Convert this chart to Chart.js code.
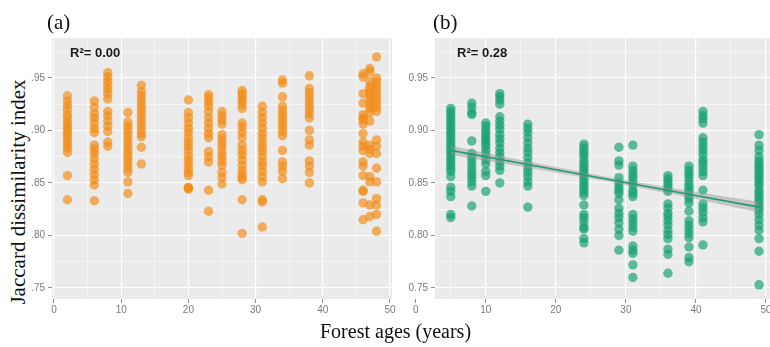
<!DOCTYPE html>
<html>
<head>
<meta charset="utf-8">
<script src="https://cdn.jsdelivr.net/npm/chart.js@4.4.1/dist/chart.umd.min.js"></script>
<style>
  html, body { margin: 0; padding: 0; background: #fff; overflow: hidden; }
  #wrap { position: relative; width: 770px; height: 347px; overflow: hidden; }
  canvas { position: absolute; top: 0; }
  #chartA { left: 0; }
  #chartB { left: 385px; }
  .serif { position: absolute; font-family: "Liberation Serif", "Times New Roman", serif; color: #111; white-space: nowrap; }
  .r2 { position: absolute; font-family: "Liberation Sans", Arial, sans-serif; font-weight: bold; font-size: 13px; color: #1a1a1a; }
  #ytitle { left: 0; top: 0; width: 31px; height: 347px; background: #fff; }
  #ytitle span { position: absolute; left: 18px; top: 192px; transform: translate(-50%, -50%) rotate(-90deg); font-size: 21px; }
</style>
</head>
<body>
<div id="wrap">
  <canvas id="chartA" width="400" height="347"></canvas>
  <canvas id="chartB" width="420" height="347"></canvas>
  <div id="ytitle" class="serif"><span>Jaccard dissimilarity index</span></div>
  <div class="serif" style="left:47px; top:10px; font-size:21px;">(a)</div>
  <div class="serif" style="left:433px; top:10px; font-size:21px;">(b)</div>
  <div class="r2" style="left:70px; top:45px;">R²= 0.00</div>
  <div class="r2" style="left:457px; top:45px;">R²= 0.28</div>
  <div class="serif" style="left:320px; top:320px; font-size:20px;">Forest ages (years)</div>
</div>
<script>
// panel (a): forest age -> dissimilarity values read per column
const agesA = [2, 6, 8, 11, 13, 20, 23, 25, 28, 31, 34, 38, 46, 47, 48];
const jaccardA = [
  [0.933, 0.928, 0.924, 0.92, 0.915, 0.912, 0.908, 0.905, 0.902, 0.899, 0.896, 0.893, 0.889, 0.886, 0.883, 0.879, 0.857, 0.834],
  [0.928, 0.922, 0.916, 0.912, 0.907, 0.902, 0.898, 0.886, 0.882, 0.878, 0.873, 0.868, 0.863, 0.858, 0.853, 0.848, 0.833],
  [0.955, 0.951, 0.947, 0.943, 0.939, 0.935, 0.93, 0.918, 0.914, 0.909, 0.904, 0.899, 0.889, 0.885],
  [0.917, 0.908, 0.904, 0.9, 0.896, 0.892, 0.888, 0.884, 0.88, 0.876, 0.872, 0.868, 0.864, 0.86, 0.851, 0.84],
  [0.943, 0.937, 0.933, 0.929, 0.925, 0.921, 0.917, 0.913, 0.909, 0.905, 0.901, 0.897, 0.894, 0.884, 0.868],
  [0.929, 0.917, 0.912, 0.907, 0.902, 0.898, 0.893, 0.889, 0.885, 0.881, 0.876, 0.872, 0.868, 0.864, 0.86, 0.857, 0.846, 0.845, 0.844],
  [0.934, 0.931, 0.927, 0.923, 0.918, 0.912, 0.907, 0.902, 0.897, 0.893, 0.88, 0.875, 0.87, 0.843, 0.823],
  [0.918, 0.914, 0.91, 0.906, 0.896, 0.892, 0.888, 0.884, 0.879, 0.875, 0.871, 0.867, 0.86, 0.855, 0.849],
  [0.938, 0.935, 0.932, 0.929, 0.925, 0.921, 0.907, 0.903, 0.898, 0.893, 0.886, 0.881, 0.877, 0.872, 0.867, 0.862, 0.858, 0.855, 0.853, 0.834, 0.802],
  [0.923, 0.917, 0.912, 0.907, 0.902, 0.897, 0.893, 0.888, 0.884, 0.88, 0.875, 0.87, 0.866, 0.861, 0.856, 0.851, 0.834, 0.832, 0.808],
  [0.948, 0.945, 0.932, 0.923, 0.919, 0.915, 0.911, 0.907, 0.903, 0.899, 0.895, 0.881, 0.87, 0.866, 0.861, 0.854],
  [0.952, 0.94, 0.936, 0.932, 0.928, 0.924, 0.92, 0.916, 0.912, 0.9, 0.891, 0.886, 0.871, 0.866, 0.86, 0.85],
  [0.954, 0.951, 0.935, 0.926, 0.915, 0.912, 0.91, 0.906, 0.897, 0.889, 0.885, 0.881, 0.87, 0.866, 0.857, 0.843, 0.842, 0.831, 0.815],
  [0.959, 0.956, 0.947, 0.942, 0.939, 0.936, 0.933, 0.929, 0.925, 0.921, 0.917, 0.909, 0.886, 0.882, 0.878, 0.856, 0.851, 0.829, 0.818],
  [0.97, 0.95, 0.946, 0.942, 0.938, 0.934, 0.93, 0.926, 0.922, 0.918, 0.891, 0.885, 0.878, 0.864, 0.851, 0.835, 0.829, 0.82, 0.804]
];

// panel (b)
const agesB = [5, 8, 10, 12, 16, 24, 29, 31, 36, 39, 41, 49];
const jaccardB = [
  [0.921, 0.918, 0.915, 0.912, 0.909, 0.906, 0.903, 0.9, 0.897, 0.894, 0.891, 0.888, 0.885, 0.882, 0.879, 0.876, 0.873, 0.87, 0.867, 0.864, 0.861, 0.856, 0.846, 0.842, 0.837, 0.82, 0.817],
  [0.926, 0.922, 0.917, 0.915, 0.89, 0.878, 0.874, 0.87, 0.866, 0.862, 0.858, 0.855, 0.851, 0.847, 0.828],
  [0.907, 0.904, 0.9, 0.897, 0.894, 0.891, 0.888, 0.885, 0.881, 0.877, 0.872, 0.868, 0.861, 0.857, 0.842],
  [0.935, 0.932, 0.929, 0.925, 0.913, 0.909, 0.905, 0.901, 0.896, 0.892, 0.888, 0.883, 0.879, 0.875, 0.87, 0.866, 0.862, 0.85],
  [0.906, 0.902, 0.898, 0.893, 0.888, 0.883, 0.879, 0.874, 0.869, 0.864, 0.86, 0.856, 0.851, 0.847, 0.827],
  [0.887, 0.884, 0.881, 0.878, 0.875, 0.871, 0.868, 0.865, 0.862, 0.859, 0.856, 0.853, 0.85, 0.847, 0.844, 0.841, 0.838, 0.829, 0.82, 0.817, 0.813, 0.808, 0.806, 0.797, 0.793],
  [0.884, 0.871, 0.867, 0.855, 0.85, 0.846, 0.843, 0.84, 0.834, 0.826, 0.821, 0.817, 0.812, 0.806, 0.8, 0.786],
  [0.886, 0.866, 0.862, 0.858, 0.855, 0.851, 0.848, 0.843, 0.84, 0.837, 0.82, 0.816, 0.812, 0.808, 0.804, 0.79, 0.786, 0.783, 0.772, 0.76],
  [0.857, 0.854, 0.851, 0.848, 0.845, 0.842, 0.83, 0.826, 0.821, 0.818, 0.814, 0.81, 0.805, 0.801, 0.797, 0.787, 0.782, 0.764],
  [0.866, 0.862, 0.859, 0.856, 0.852, 0.848, 0.845, 0.842, 0.838, 0.835, 0.831, 0.823, 0.814, 0.81, 0.806, 0.802, 0.798, 0.789, 0.779, 0.775],
  [0.918, 0.914, 0.911, 0.907, 0.893, 0.889, 0.885, 0.881, 0.877, 0.872, 0.869, 0.865, 0.861, 0.857, 0.843, 0.83, 0.826, 0.822, 0.817, 0.813, 0.791],
  [0.896, 0.886, 0.881, 0.875, 0.871, 0.868, 0.865, 0.862, 0.859, 0.856, 0.853, 0.85, 0.847, 0.843, 0.84, 0.837, 0.834, 0.831, 0.827, 0.824, 0.82, 0.815, 0.81, 0.805, 0.797, 0.785, 0.753]
];

// linear fit + confidence band in panel (b)
const fitAges = [5, 16, 27, 38, 49];
const fitMean = [0.881, 0.8675, 0.854, 0.8405, 0.827];
const fitLower = [0.8765, 0.8645, 0.8518, 0.8375, 0.8218];
const fitUpper = [0.8855, 0.8705, 0.8562, 0.8435, 0.8322];

const xTicks = [0, 5, 10, 15, 20, 25, 30, 35, 40, 45, 50];
const yTicks = [0.75, 0.775, 0.8, 0.825, 0.85, 0.875, 0.9, 0.925, 0.95, 0.975];

const toPoints = (ages, cols) => ages.flatMap((a, i) => cols[i].map(v => ({ x: a, y: v })));
const pairUp = (xs, ys) => xs.map((x, i) => ({ x: x, y: ys[i] }));

const isMajorX = v => Math.abs(v % 10) < 1e-6;
const isMajorY = v => Math.abs(v / 0.05 - Math.round(v / 0.05)) < 1e-6;

const panelBg = {
  id: "panelBg",
  beforeDraw(chart) {
    const { ctx, chartArea: a } = chart;
    ctx.save();
    ctx.fillStyle = "#ebebeb";
    ctx.fillRect(a.left, a.top, a.right - a.left, a.bottom - a.top);
    ctx.restore();
  }
};

function axis(ticks, isMajor, min, max, fmt, fitSize, pad) {
  return {
    type: "linear",
    min: min,
    max: max,
    afterBuildTicks: s => { s.ticks = ticks.map(v => ({ value: v })); },
    afterFit: fitSize,
    border: { display: false },
    grid: {
      color: c => "#ffffff",
      lineWidth: c => (c.tick && isMajor(c.tick.value)) ? 1.1 : 0.5,
      tickColor: c => (c.tick && isMajor(c.tick.value)) ? "#8a8a8a" : "rgba(0,0,0,0)",
      tickLength: 4,
      tickWidth: 1
    },
    ticks: {
      autoSkip: false,
      maxRotation: 0,
      padding: pad,
      color: "#7a7a7a",
      font: { family: "Liberation Sans, Arial, sans-serif", size: 10 },
      callback: v => isMajor(v) ? fmt(v) : ""
    }
  };
}

function makePanel(id, datasets, xMin, xMax, yWidth, rightPad) {
  return new Chart(document.getElementById(id), {
    type: "scatter",
    data: { datasets: datasets },
    options: {
      responsive: false,
      animation: false,
      devicePixelRatio: 1,
      layout: { padding: { top: 38, right: rightPad, left: 0, bottom: 0 } },
      plugins: {
        legend: { display: false },
        tooltip: { enabled: false },
        filler: { drawTime: "beforeDatasetDraw" }
      },
      scales: {
        x: axis(xTicks, isMajorX, xMin, xMax, v => String(v), s => { s.height = 48; }, 1),
        y: axis(yTicks, isMajorY, 0.7395, 0.988, v => v.toFixed(2), s => { s.width = yWidth; }, 3)
      }
    },
    plugins: [panelBg]
  });
}

makePanel("chartA", [{
  data: toPoints(agesA, jaccardA),
  backgroundColor: "rgba(242,140,22,0.68)",
  borderWidth: 0,
  pointRadius: 4.7
}], -0.3, 50.3, 52, 8);

makePanel("chartB", [
  {
    type: "line",
    data: pairUp(fitAges, fitMean),
    borderColor: "#1f9c76",
    borderWidth: 1.6,
    pointRadius: 0,
    fill: false,
    order: 1
  },
  {
    type: "line",
    data: pairUp(fitAges, fitLower),
    borderWidth: 0,
    pointRadius: 0,
    fill: false,
    order: 2
  },
  {
    type: "line",
    data: pairUp(fitAges, fitUpper),
    borderWidth: 0,
    pointRadius: 0,
    backgroundColor: "rgba(150,150,150,0.45)",
    fill: "-1",
    order: 2
  },
  {
    data: toPoints(agesB, jaccardB),
    backgroundColor: "rgba(22,160,116,0.68)",
    borderWidth: 0,
    pointRadius: 4.7,
    order: 3
  }
], 2.75, 50.57, 50, 35);
</script>
</body>
</html>
